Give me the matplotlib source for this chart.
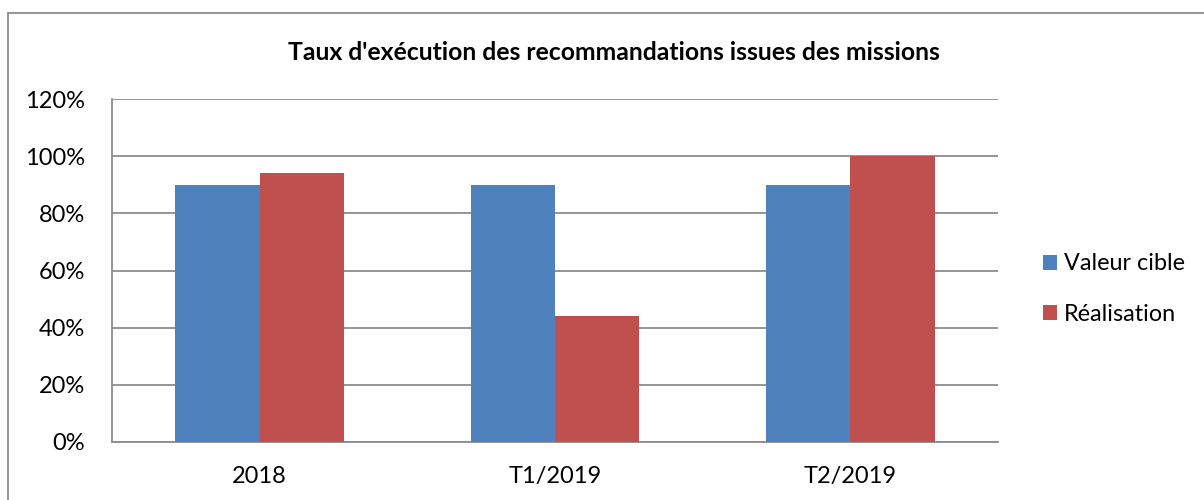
import matplotlib
matplotlib.use("Agg")
import matplotlib.pyplot as plt
from matplotlib.lines import Line2D
import numpy as np

categories = ["2018", "T1/2019", "T2/2019"]
valeur_cible = [90, 90, 90]
realisation = [94, 44, 100]
yticks = [0, 20, 40, 60, 80, 100, 120]
title = "Taux d'exécution des recommandations issues des missions"

plt.rcParams['font.family'] = ['Lato', 'DejaVu Sans']

W, H = 1204, 500
fig = plt.figure(figsize=(W / 100, H / 100), dpi=100)
ax = fig.add_axes([112 / W, 1 - 442 / H, (998 - 112) / W, (442 - 99) / H])

x = np.arange(len(categories))
bw = 0.286
ax.bar(x - bw / 2, valeur_cible, bw, color="#4F81BD", label="Valeur cible", zorder=3)
ax.bar(x + bw / 2, realisation, bw, color="#C0504D", label="Réalisation", zorder=3)

ax.set_xlim(-0.5, len(categories) - 0.5)
ax.set_ylim(0, 120)
ax.set_yticks(yticks)
ax.set_yticklabels([f"{v}%" for v in yticks])
ax.set_xticks(x)
ax.set_xticklabels(categories)
ax.tick_params(axis='both', length=0, labelsize=17, colors="black")
ax.tick_params(axis='y', pad=19.5)
ax.tick_params(axis='x', pad=17)
ax.yaxis.grid(True, color="#8C8C8C", linewidth=1.3, zorder=0)
for s in ["top", "right"]:
    ax.spines[s].set_visible(False)
ax.spines["left"].set_color("#8C8C8C")
ax.spines["bottom"].set_color("#8C8C8C")
ax.spines["left"].set_linewidth(1.3)
ax.spines["bottom"].set_linewidth(1.3)

fig.text(614 / W, 1 - 52 / H, title, ha="center", va="center", fontsize=17.8, fontweight="bold")

ax.legend(loc="center left", bbox_to_anchor=(1022 / W, 1 - 289 / H), bbox_transform=fig.transFigure,
          frameon=False, fontsize=16.8, handlelength=0.6, handleheight=0.6, handletextpad=0.3,
          labelspacing=1.25)

fig.add_artist(Line2D([8 / W, 8 / W], [0, 1 - 13 / H], transform=fig.transFigure, color="#8C8C8C", linewidth=1.3))
fig.add_artist(Line2D([8 / W, 1], [1 - 13 / H, 1 - 13 / H], transform=fig.transFigure, color="#8C8C8C", linewidth=1.3))

fig.savefig("out.png", dpi=100)
